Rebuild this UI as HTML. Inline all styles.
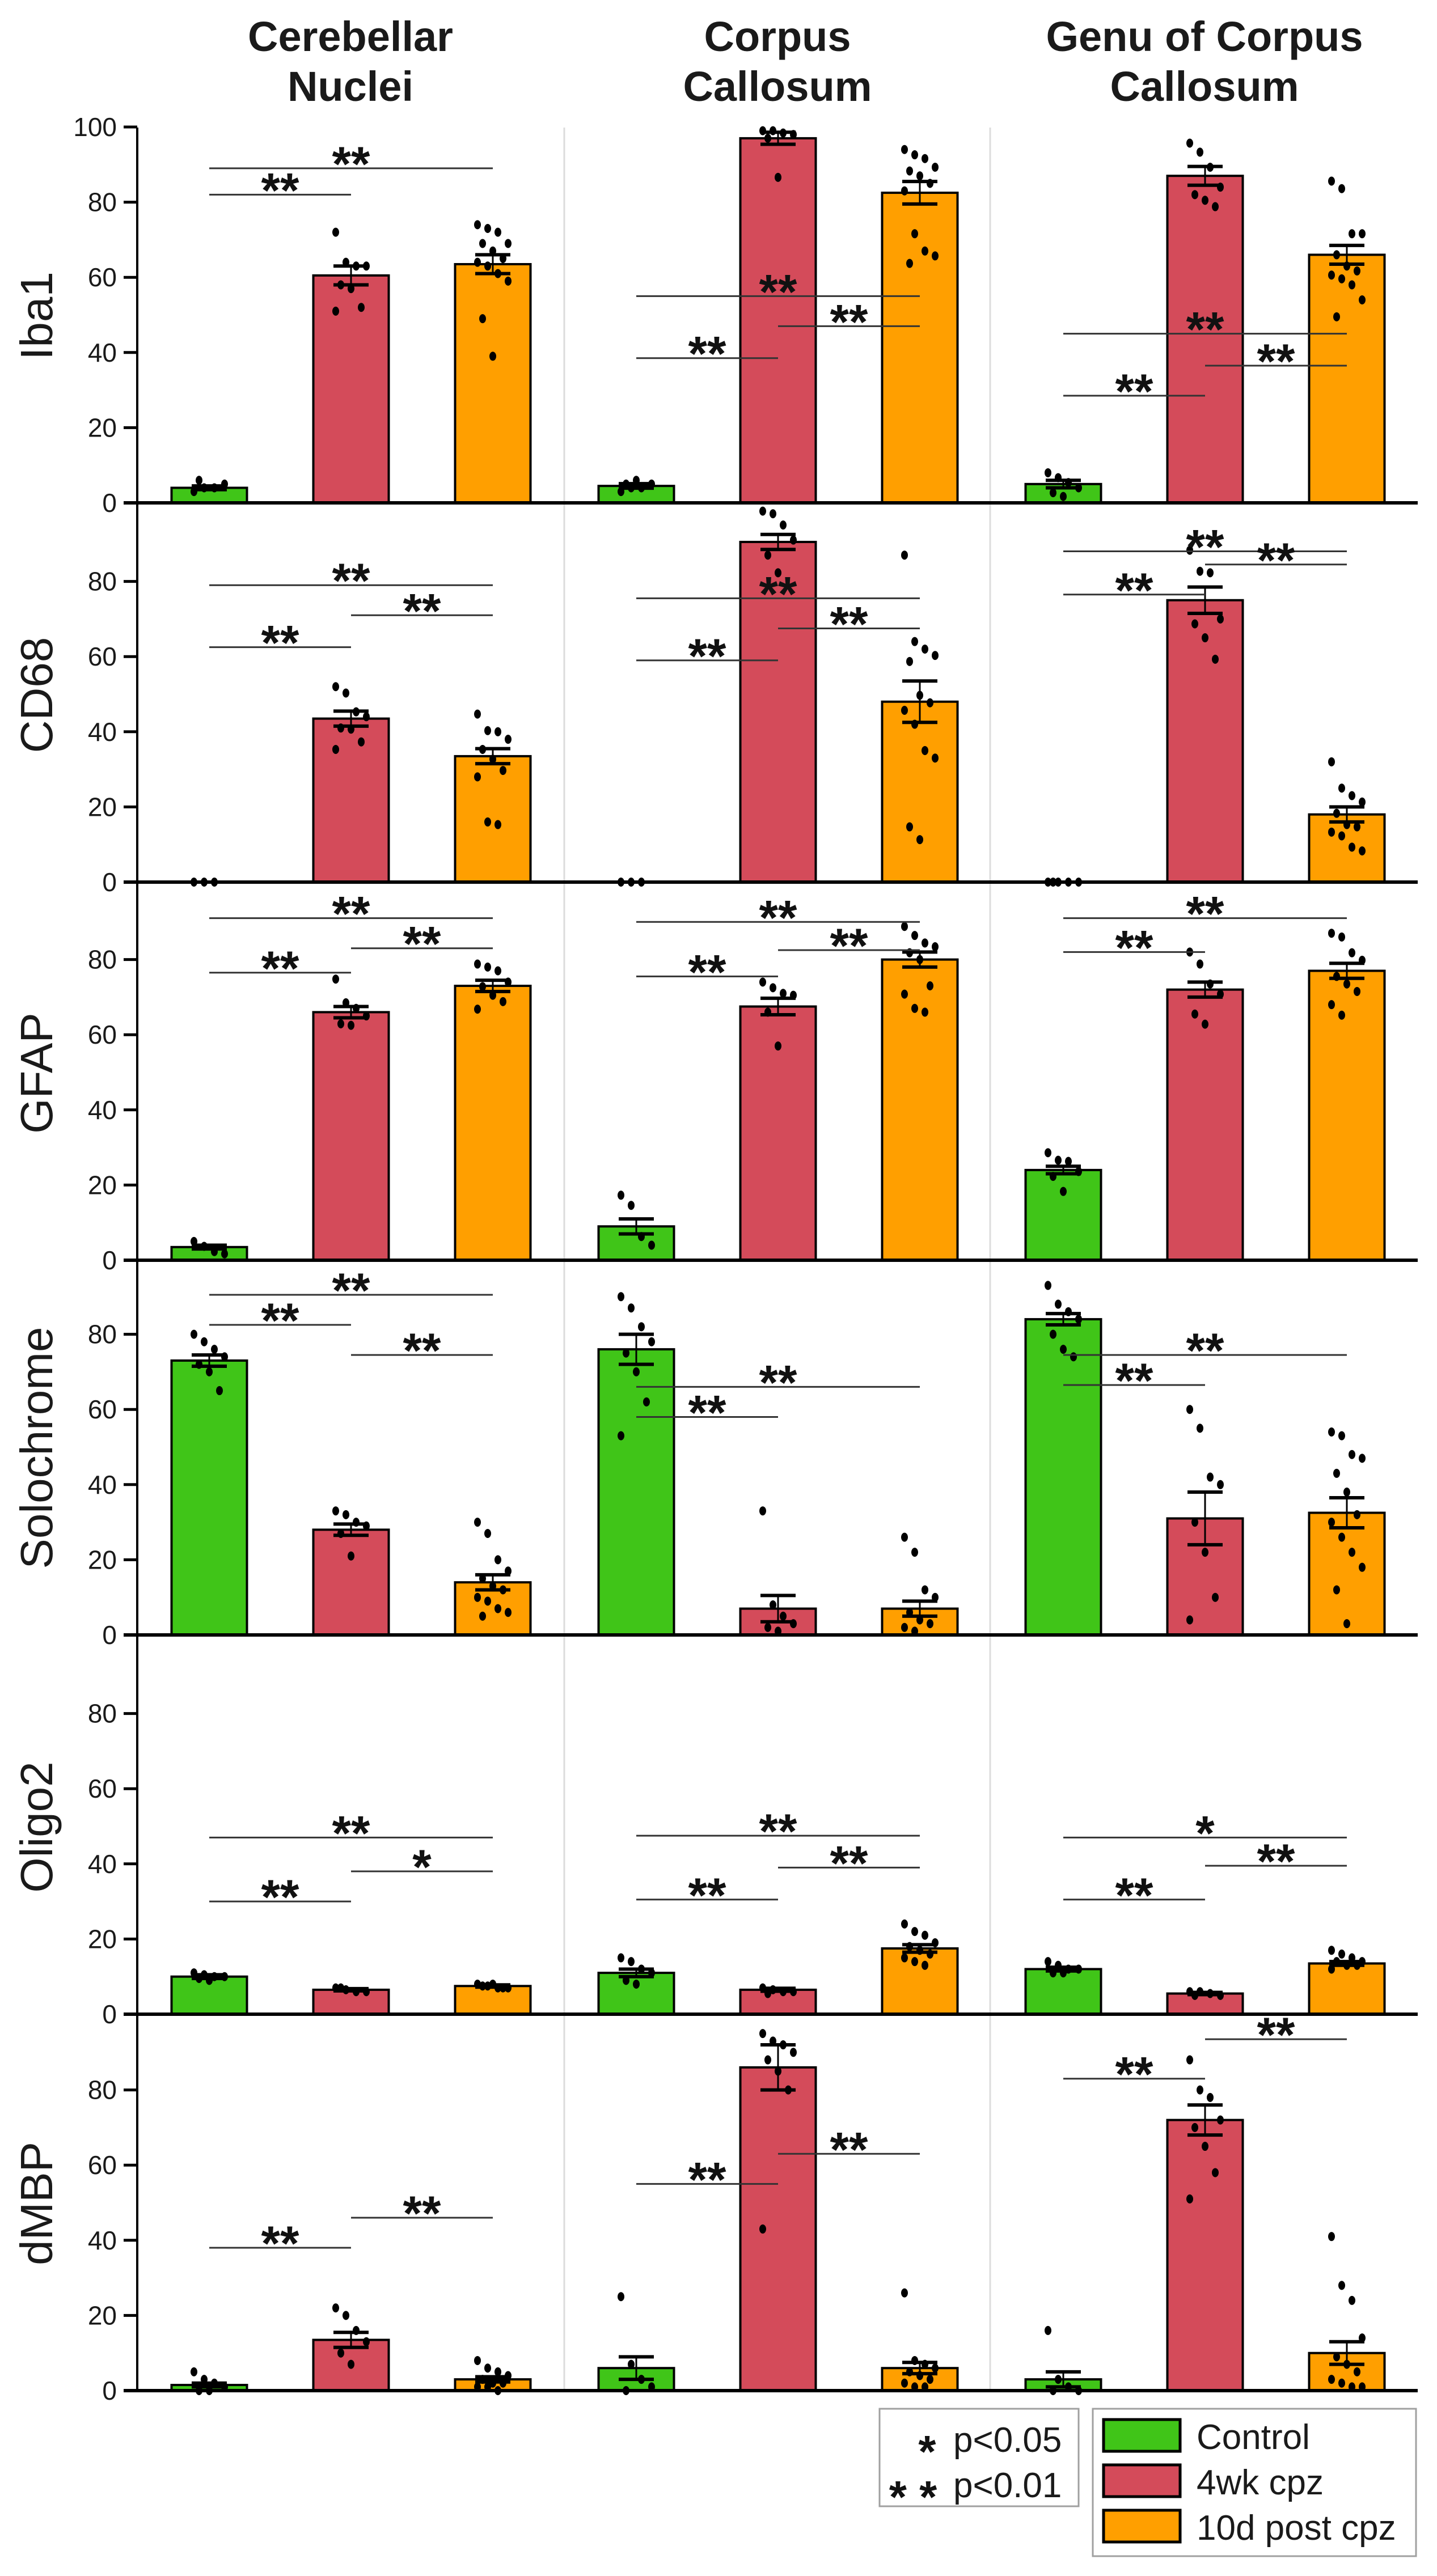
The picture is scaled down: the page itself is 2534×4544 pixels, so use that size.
<!DOCTYPE html>
<html><head><meta charset="utf-8"><style>
html,body{margin:0;padding:0;background:#fff;}
svg{display:block;}
text{font-family:"Liberation Sans",sans-serif;}
</style></head><body>
<svg id="chart" width="2534" height="4544" viewBox="0 0 2534 4544" xmlns="http://www.w3.org/2000/svg">
<g id="titles">
<text x="618" y="90" font-size="74" font-weight="bold" text-anchor="middle" fill="#1a1a1a">Cerebellar</text>
<text x="618" y="178" font-size="74" font-weight="bold" text-anchor="middle" fill="#1a1a1a">Nuclei</text>
<text x="1371" y="90" font-size="74" font-weight="bold" text-anchor="middle" fill="#1a1a1a">Corpus</text>
<text x="1371" y="178" font-size="74" font-weight="bold" text-anchor="middle" fill="#1a1a1a">Callosum</text>
<text x="2124" y="90" font-size="74" font-weight="bold" text-anchor="middle" fill="#1a1a1a">Genu of Corpus</text>
<text x="2124" y="178" font-size="74" font-weight="bold" text-anchor="middle" fill="#1a1a1a">Callosum</text>
</g>
<g id="plot"></g>
<g id="legend">
<rect x="1551" y="4249" width="351" height="172" fill="#fff" stroke="#a0a0a0" stroke-width="3"/>
<text x="1635" y="4352" font-size="80" font-weight="bold" text-anchor="middle" fill="#111">*</text>
<text x="1681" y="4325" font-size="62" fill="#1a1a1a">p&lt;0.05</text>
<text x="1610" y="4432" font-size="80" font-weight="bold" text-anchor="middle" fill="#111">* *</text>
<text x="1681" y="4405" font-size="62" fill="#1a1a1a">p&lt;0.01</text>
<rect x="1927" y="4249" width="570" height="260" fill="#fff" stroke="#a0a0a0" stroke-width="3"/>
<rect x="1946" y="4268" width="135" height="56" fill="#40c518" stroke="#000" stroke-width="5"/>
<text x="2110" y="4320" font-size="62" fill="#1a1a1a">Control</text>
<rect x="1946" y="4348" width="135" height="56" fill="#d44b5a" stroke="#000" stroke-width="5"/>
<text x="2110" y="4400" font-size="62" fill="#1a1a1a">4wk cpz</text>
<rect x="1946" y="4428" width="135" height="56" fill="#ff9f00" stroke="#000" stroke-width="5"/>
<text x="2110" y="4480" font-size="62" fill="#1a1a1a">10d post cpz</text>
</g>
</svg>
<script>
// ---- data ----
const markers = ["Iba1","CD68","GFAP","Solochrome","Oligo2","dMBP"];
const regions = ["cerebellar-nuclei","corpus-callosum","genu-corpus-callosum"];
const groups = ["control","4wk-cpz","10d-post-cpz"];
const tickLabelsFirst = [0,20,40,60,80,100];
const tickLabels = [0,20,40,60,80];
const iba1Means = [[4,60.5,63.5],[4.5,97,82.5],[5,87,66]];
const cd68Means = [[0,43.5,33.5],[0,90.5,48],[0,75,18]];
const gfapMeans = [[3.5,66,73],[9,67.5,80],[24,72,77]];
const soloMeans = [[73,28,14],[76,7,7],[84,31,32.5]];
const oligoMeans = [[10,6.5,7.5],[11,6.5,17.5],[12,5.5,13.5]];
const dmbpMeans = [[1.5,13.5,3],[6,86,6],[3,72,10]];
const iba1Sem = [[0.5,2.5,2.5],[0.6,1.6,3],[1,2.5,2.5]];
const cd68Sem = [[0,2,2],[0,2,5.5],[0,3.5,2]];
const gfapSem = [[0.5,1.5,1.5],[2,2.2,2],[1,2,2]];
const soloSem = [[1.5,1.5,2],[4,3.5,2],[1.5,7,4]];
const oligoSem = [[0.5,0.3,0.3],[1,0.4,1],[0.5,0.3,0.5]];
const dmbpSem = [[0.5,2,0.7],[3,6,1.5],[2,4,3]];
const iba1Sig = [[0,0,2,89,"**"],[0,0,1,82,"**"],[1,0,2,55,"**"],[1,1,2,47,"**"],[1,0,1,38.5,"**"],[2,0,2,45,"**"],[2,1,2,36.5,"**"],[2,0,1,28.5,"**"]];
const cd68Sig = [[0,0,2,79,"**"],[0,1,2,71,"**"],[0,0,1,62.5,"**"],[1,0,2,75.5,"**"],[1,1,2,67.5,"**"],[1,0,1,59,"**"],[2,0,2,88,"**"],[2,1,2,84.5,"**"],[2,0,1,76.5,"**"]];
const gfapSig = [[0,0,2,91,"**"],[0,1,2,83,"**"],[0,0,1,76.5,"**"],[1,0,2,90,"**"],[1,1,2,82.5,"**"],[1,0,1,75.5,"**"],[2,0,2,91,"**"],[2,0,1,82,"**"]];
const soloSig = [[0,0,2,90.5,"**"],[0,0,1,82.5,"**"],[0,1,2,74.5,"**"],[1,0,2,66,"**"],[1,0,1,58,"**"],[2,0,2,74.5,"**"],[2,0,1,66.5,"**"]];
const oligoSig = [[0,0,2,47,"**"],[0,1,2,38,"*"],[0,0,1,30,"**"],[1,0,2,47.5,"**"],[1,1,2,39,"**"],[1,0,1,30.5,"**"],[2,0,2,47,"*"],[2,1,2,39.5,"**"],[2,0,1,30.5,"**"]];
const dmbpSig = [[0,1,2,46,"**"],[0,0,1,38,"**"],[1,1,2,63,"**"],[1,0,1,55,"**"],[2,1,2,93.5,"**"],[2,0,1,83,"**"]];
const iba1Dots = [[[3,4,4,5,6],[72,64,63,63,58,57,52,51],[74,73,72,69,69,67,65,64,63,61,59,49,39]],
 [[3,4,4,5,5,6],[99,99,98.4,98,97,86.6],[94,92.6,91.6,89.3,88.3,87,85,83,71.6,67,65.7,63.7]],
 [[8,6.7,5.4,4,2.7,1.7],[95.7,93.3,89.3,84,82,80.5,78.8],[85.6,83.6,71.6,71.6,66,63,61.7,60.6,59.6,58,54,49.5]]];
const cd68Dots = [[[0,0,0],[52,50.3,45.3,44,41,40.7,37.3,35.3],[44.7,40.3,40,38,35.3,32.7,29.7,28,16,15.3]],
 [[0,0,0],[98.7,98,95,91,87,82.3],[87,64,62,60.3,58.7,49.7,47.7,45.7,42,35,33,14.7,11.3]],
 [[0,0,0,0,0],[88.3,82.7,82.3,70,68.7,65,59.3],[32,25,23,21.3,18.3,15.3,14.7,13.3,12.3,9.3,8.3]]];
const gfapDots = [[[5,3.7,2.3,1.7],[74.8,68.5,67,65,62.9,62.5],[78.8,78,77,74,72.8,70.5,68.8,66.8]],
 [[17.3,14.6,6.3,4],[74,72.5,71,70.5,66,57],[88.8,86.4,84.4,83.4,81.8,80,73,70.8,67,66]],
 [[28.6,26.6,26.3,23.6,22.3,18.3],[82,78.8,73.5,70.8,65.5,62.8],[87,86,81.8,79.8,75.5,73.5,71.5,68,65.2]]];
const soloDots = [[[80,78,76,74,72,70,65],[33,32,30,29,27,21],[30,27,20,17,15,13,12,10,9,7,6,5]],
 [[90,87,82,78,75,70,62,53],[33,8,5,3,2,1],[26,22,12,10,6,4,3,2,1]],
 [[93,88,86,84,80,76,74],[60,55,42,40,30,22,10,4],[54,53,48,47,43,38,32,30,26,22,18,12,3]]];
const oligoDots = [[[11,10.5,10,10,9.5,9],[7,6.5,6,6,7],[8,7.5,7,7,7.5,8,7]],
 [[15,14,12,11,9,8],[7,6.5,6,6,5.5],[24,22,21,19,18,17,16,15,14,13]],
 [[14,13,12,12,11,11],[6,6,5.5,5,5],[17,16,15,14,14,13,13,12]]];
const dmbpDots = [[[5,3,2,1,0,0],[22,20,16,13,10,7],[8,6,5,4,3,2,2,1,1,0]],
 [[25,7,3,1,0],[95,93,92,90,88,85,80,43],[26,8,7,6,5,4,3,2,1,1]],
 [[16,3,1,0,0],[88,80,78,72,70,65,58,51],[41,28,24,14,9,7,5,3,2,1,1]]];

const allMeans=[iba1Means,cd68Means,gfapMeans,soloMeans,oligoMeans,dmbpMeans];
const allSem=[iba1Sem,cd68Sem,gfapSem,soloSem,oligoSem,dmbpSem];
const allSig=[iba1Sig,cd68Sig,gfapSig,soloSig,oligoSig,dmbpSig];
const allDots=[iba1Dots,cd68Dots,gfapDots,soloDots,oligoDots,dmbpDots];
const colors=["#40c518","#d44b5a","#ff9f00"];

const NS="http://www.w3.org/2000/svg";
const plot=document.getElementById("plot");
const baselines=[887,1556,2223,2884,3553,4217];
const unitPx=6.63;
const axisX=242, axisEnd=2500, barW=133;
function xPos(r,g){return 369+r*753+g*250;}
function yPos(p,v){return baselines[p]-v*unitPx;}
function mk(tag,attrs,parent){const e=document.createElementNS(NS,tag);for(const k in attrs)e.setAttribute(k,attrs[k]);(parent||plot).appendChild(e);return e;}

[995,1746].forEach((sx,i)=>{
  const l=mk("line",{x1:sx,x2:sx,y1:225,y2:4217,stroke:"#dcdcdc","stroke-width":3});
  
  
});

markers.forEach((m,p)=>{
  const g=mk("g",{});
  
  
  const cy=baselines[p]-330;
  const t=mk("text",{x:0,y:0,"font-size":80,"text-anchor":"middle",fill:"#1a1a1a",transform:`translate(92,${cy}) rotate(-90)`},g);
  t.textContent=m;
  
  
  const ticks=p===0?tickLabelsFirst:tickLabels;
  ticks.forEach(v=>{
    const y=yPos(p,v);
    const tk=mk("line",{x1:218,x2:axisX,y1:y,y2:y,stroke:"#000","stroke-width":5},g);
    
    
    const tl=mk("text",{x:206,y:y+16,"font-size":46,"text-anchor":"end",fill:"#1a1a1a"},g);
    tl.textContent=v;
    
    
  });
  regions.forEach((rn,r)=>{
    groups.forEach((gn,gi)=>{
      const v=allMeans[p][r][gi], s=allSem[p][r][gi];
      const cx=xPos(r,gi);
      if(v>0){
        const b=mk("rect",{x:cx-barW/2,y:yPos(p,v),width:barW,height:v*unitPx,fill:colors[gi],stroke:"#000","stroke-width":4},g);
        
        
      }
      allDots[p][r][gi].forEach((d,k)=>{
        const off=((k*37)%7-3)*9;
        const c=mk("ellipse",{cx:cx+off,cy:yPos(p,d),rx:6,ry:8,fill:"#000"},g);
        
        
      });
      if(s>0){
        const e=mk("g",{},g);
        
        
        mk("line",{x1:cx,x2:cx,y1:yPos(p,v-s),y2:yPos(p,v+s),stroke:"#000","stroke-width":3},e);
        mk("line",{x1:cx-31,x2:cx+31,y1:yPos(p,v+s),y2:yPos(p,v+s),stroke:"#000","stroke-width":6},e);
        mk("line",{x1:cx-31,x2:cx+31,y1:yPos(p,v-s),y2:yPos(p,v-s),stroke:"#000","stroke-width":6},e);
      }
    });
  });
  allSig[p].forEach(sg=>{
    const [r,a,b,v,lab]=sg;
    const x1=xPos(r,a), x2=xPos(r,b), y=yPos(p,v);
    const ln=mk("line",{x1:x1,x2:x2,y1:y,y2:y,stroke:"#333","stroke-width":3},g);
    
    
    const st=mk("text",{x:(x1+x2)/2,y:y+22,"font-size":86,"font-weight":"bold","text-anchor":"middle",fill:"#111"},g);
    st.textContent=lab;
    
    
  });
  const bl=mk("line",{x1:218,x2:axisEnd,y1:baselines[p],y2:baselines[p],stroke:"#000","stroke-width":6},g);
  
  
});
const ax=mk("line",{x1:axisX,x2:axisX,y1:225,y2:4220,stroke:"#000","stroke-width":4});


</script>
</body></html>
